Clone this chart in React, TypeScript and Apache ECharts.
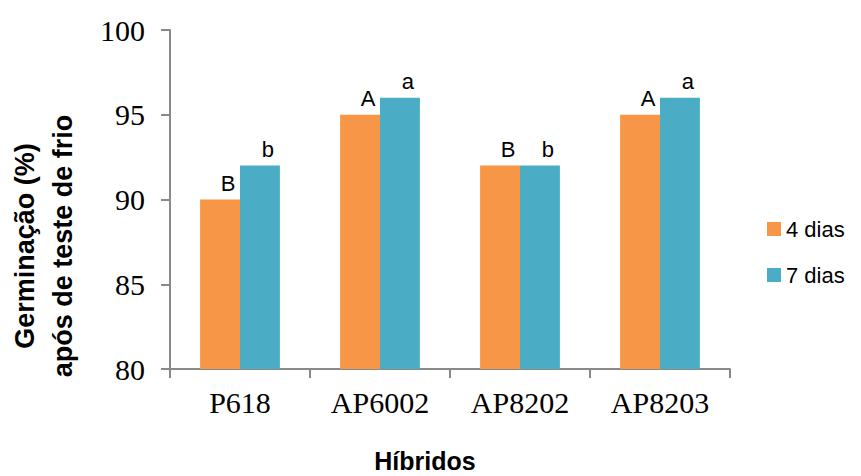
import React, { useEffect, useRef } from "react";
import * as echarts from "echarts";

const categories = ["P618", "AP6002", "AP8202", "AP8203"];
const dias4 = [90, 95, 92, 95];
const dias7 = [92, 96, 92, 96];
const letters4 = ["B", "A", "B", "A"];
const letters7 = ["b", "a", "b", "a"];
const yTicks = { min: 80, max: 100, interval: 5 };

export default function App() {
  const ref = useRef<HTMLDivElement>(null);
  useEffect(() => {
    const chart = echarts.init(ref.current!, null, { renderer: "svg" });
    const axisColor = "#898989";
    const sans = "Liberation Sans";
    const serif = "Liberation Serif";
    const labelStyle = (letters: string[]) => ({
      show: true,
      position: "top",
      distance: 5,
      offset: [8, 0],
      fontFamily: sans,
      fontSize: 22,
      color: "#000",
      formatter: (p: any) => letters[p.dataIndex],
    });
    chart.setOption({
      animation: false,
      backgroundColor: "#ffffff",
      grid: { left: 170, top: 30, width: 560, height: 339 },
      legend: {
        orient: "vertical",
        left: 767,
        top: 218,
        padding: 0,
        itemWidth: 14,
        itemHeight: 14,
        itemGap: 24,
        icon: "rect",
        textStyle: { fontFamily: sans, fontSize: 22, color: "#000" },
        data: ["4 dias", "7 dias"],
      },
      xAxis: {
        type: "category",
        data: categories,
        axisLine: { lineStyle: { color: axisColor, width: 2 } },
        axisTick: { show: true, length: 9, lineStyle: { color: axisColor, width: 2 } },
        axisLabel: { fontFamily: serif, fontSize: 30, color: "#000", margin: 18 },
      },
      yAxis: {
        type: "value",
        min: yTicks.min,
        max: yTicks.max,
        interval: yTicks.interval,
        splitLine: { show: false },
        axisLine: { show: true, lineStyle: { color: axisColor, width: 2 } },
        axisTick: { show: true, length: 9, lineStyle: { color: axisColor, width: 2 } },
        axisLabel: { fontFamily: serif, fontSize: 30, color: "#000", margin: 25 },
      },
      series: [
        {
          name: "4 dias",
          type: "bar",
          data: dias4,
          barGap: "0%",
          barCategoryGap: "43%",
          itemStyle: { color: "#F79646" },
          label: labelStyle(letters4),
        },
        {
          name: "7 dias",
          type: "bar",
          data: dias7,
          itemStyle: { color: "#4BACC6" },
          label: labelStyle(letters7),
        },
      ],
      graphic: [
        {
          type: "text",
          x: 44,
          y: 246,
          rotation: Math.PI / 2,
          style: {
            text: "Germinação (%)\napós de teste de frio",
            fontFamily: sans,
            fontWeight: "bold",
            fontSize: 27,
            lineHeight: 38,
            fill: "#000",
            align: "center",
            verticalAlign: "middle",
          },
        },
        {
          type: "text",
          x: 425,
          y: 461,
          style: {
            text: "Híbridos",
            fontFamily: sans,
            fontWeight: "bold",
            fontSize: 25,
            fill: "#000",
            align: "center",
            verticalAlign: "middle",
          },
        },
      ],
    });
    return () => chart.dispose();
  }, []);
  return (
    <div
      ref={ref}
      style={{ position: "absolute", left: 0, top: 0, width: 861, height: 476 }}
    />
  );
}
